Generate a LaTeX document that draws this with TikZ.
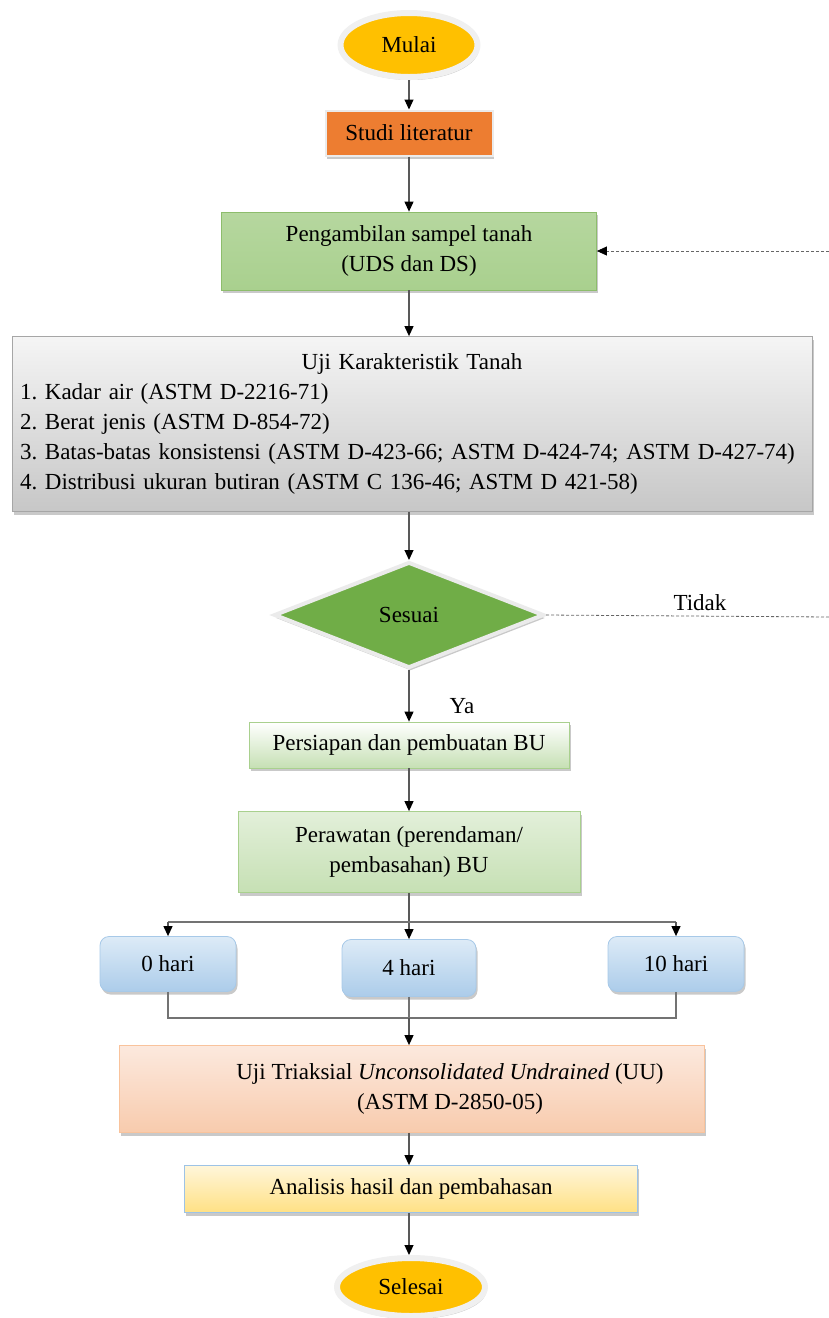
\documentclass[tikz,border=0pt]{standalone}
\usepackage{fontspec}
\setmainfont{Liberation Serif}
\usetikzlibrary{shapes.geometric, shadows, arrows.meta}
\definecolor{termyellow}{HTML}{FFC000}
\definecolor{studiorange}{HTML}{ED7D31}
\definecolor{sesuaigreen}{HTML}{70AD47}
\definecolor{lightgreen}{HTML}{A9D08E}
\definecolor{palegreen}{HTML}{C6E0B4}
\definecolor{hariblue}{HTML}{9DC3E6}
\definecolor{paleblue}{HTML}{DDEBF7}
\definecolor{peach}{HTML}{F8CBAD}
\definecolor{palepeach}{HTML}{FCE9DE}
\definecolor{analisisyellow}{HTML}{FFD966}
\definecolor{paleyellow}{HTML}{FFF6DA}
\newcommand{\flowfont}{\fontsize{23}{30}\selectfont\frenchspacing}

\begin{document}
\begin{tikzpicture}[x=1pt, y=-1pt,
    every node/.style={font=\flowfont, inner sep=0pt},
    shade/.style={drop shadow={shadow xshift=1.5pt, shadow yshift=-3pt, opacity=.3, fill=black!70}},
    flow/.style={line width=1.1pt, draw=black!65, -{Triangle[width=9pt, length=10pt, color=black]}},
    link/.style={line width=1.1pt, draw=black!55},
    loop/.style={line width=.8pt, draw=black!60, dash pattern=on 3pt off 2pt},
    terminal/.style={ellipse, shade, fill=termyellow, draw=black!6, line width=6pt, minimum width=137pt, minimum height=64pt},
    box/.style={rectangle, shade, align=center, line width=.8pt},
    hari/.style={box, rounded corners=9pt, top color=paleblue, bottom color=hariblue!85, draw=hariblue!90, minimum width=136pt, minimum height=55pt}]
                \useasboundingbox (0,0) rectangle (829,1318);
                \node[terminal] (mulai) at (409,45) {Mulai};
                \node[box, fill=studiorange, draw=black!8, line width=2pt, minimum width=167pt, minimum height=45pt] (studi) at (409,133) {Studi literatur};
                \node[box, top color=lightgreen!85, bottom color=lightgreen, draw=sesuaigreen!80, minimum width=375pt, minimum height=78pt] (peng) at (409,251) {Pengambilan sampel tanah\\(UDS dan DS)};
                \node[box, align=left, text width=784pt, inner xsep=8pt, top color=black!4, bottom color=black!22, draw=black!35, minimum height=175pt] (uji) at (412,424) {\makebox[784pt]{Uji Karakteristik Tanah}\\
                    1. Kadar air (ASTM D-2216-71)\\
                    2. Berat jenis (ASTM D-854-72)\\
                    3. Batas-batas konsistensi (ASTM D-423-66; ASTM D-424-74; ASTM D-427-74)\\
                    4. Distribusi ukuran butiran (ASTM C 136-46; ASTM D 421-58)};
                \node[diamond, shade, fill=sesuaigreen, draw=black!8, line width=4pt, minimum width=270pt, minimum height=106pt] (sesuai) at (409,615) {Sesuai};
                \node (tidak) at (700,603) {Tidak};
                \node[box, top color=white, bottom color=palegreen, draw=lightgreen, minimum width=320pt, minimum height=46pt] (persiapan) at (409,745) {Persiapan dan pembuatan BU};
                \node (ya) at (462,706) {Ya};
                \node[box, top color=palegreen!50, bottom color=palegreen, draw=lightgreen, minimum width=342pt, minimum height=81pt] (perawatan) at (409,852) {Perawatan (perendaman/\\pembasahan) BU};
                \node[hari] (hari0) at (168,964) {0 hari};
                \node[hari, minimum width=134pt, minimum height=57pt] (hari4) at (409,968) {4 hari};
                \node[hari] (hari10) at (676,964) {10 hari};
                \node[box, top color=palepeach, bottom color=peach, draw=peach!90!orange, minimum width=585pt, minimum height=87pt] (triaksial) at (412,1089) {\hspace*{76pt}Uji Triaksial \textit{Unconsolidated Undrained} (UU)\\\hspace*{76pt}(ASTM D-2850-05)};
                \node[box, top color=paleyellow, bottom color=analisisyellow!80, draw=hariblue, minimum width=453pt, minimum height=47pt] (analisis) at (411,1189) {Analisis hasil dan pembahasan};
                \node[terminal, minimum width=148pt, minimum height=58pt] (selesai) at (411,1287) {Selesai};
                \coordinate (kanan1) at (829,251);
                \coordinate (kanan2) at (829,617);
                \coordinate (cabang) at (409,922);
                \coordinate (gabung) at (409,1018);
                \draw[flow] (mulai) -- (studi);
                \draw[flow] (studi) -- (peng);
                \draw[flow] (peng) -- (peng |- uji.north);
                \draw[flow] (uji.south -| sesuai) -- (sesuai);
                \draw[flow] (sesuai) -- (persiapan);
                \draw[loop] (sesuai.east) -- (kanan2);
                \draw[loop, -{Triangle[width=9pt, length=10pt, color=black]}] (kanan1) -- (peng.east);
                \draw[flow] (persiapan) -- (perawatan);
                \draw[flow] (perawatan) -- (hari4);
                \draw[link] (hari0 |- cabang) -- (hari10 |- cabang);
                \draw[flow] (hari0 |- cabang) -- (hari0);
                \draw[flow] (hari10 |- cabang) -- (hari10);
                \draw[link] (hari0) -- (hari0 |- gabung) -- (hari10 |- gabung) -- (hari10);
                \draw[link] (hari4) -- (gabung);
                \draw[flow] (gabung) -- (gabung |- triaksial.north);
                \draw[flow] (triaksial.south -| gabung) -- (gabung |- analisis.north);
                \draw[flow] (analisis.south -| gabung) -- (gabung |- selesai.north);
            \end{tikzpicture}
\end{document}
